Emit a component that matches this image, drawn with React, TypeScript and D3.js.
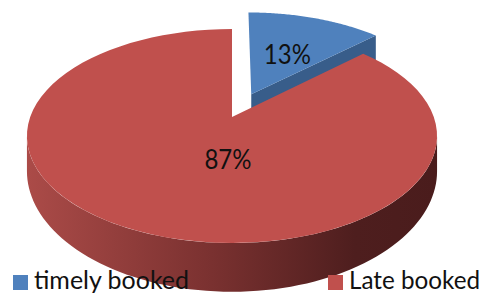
import React, { useEffect, useRef } from "react";
import * as d3 from "d3";

const categories = ["timely booked", "Late booked"];
const values = [13, 87];
const explode = [0.25, 0];
const topColors = ["#4f81bd", "#c0504d"];
const cutColors = ["#385d8a", "#7a2f2d"];
const legendWidths = [155, 131];

const W = 483;
const H = 295;

export default function App() {
  const ref = useRef<SVGSVGElement>(null);

  useEffect(() => {
    const svg = d3.select(ref.current);
    svg.selectAll("*").remove();

    // perspective disk: u across, v toward viewer, z = thickness in px
    const cx = 232, cy = 117, kx = 201.8, ky = 103.6, D = 5.63, depth = 33;
    const proj = (u: number, v: number, z: number): [number, number] => {
      const s = D / (D - v);
      return [cx + kx * u * s, cy + ky * v * s + z * s * s];
    };

    const total = d3.sum(values);
    const pct = d3.format(".0%");
    const arcs = d3.pie<number>().sort(null)(values);
    const line = d3.line().curve(d3.curveLinear);

    const defs = svg.append("defs");
    const grad = defs
      .append("linearGradient")
      .attr("id", "sideGrad")
      .attr("gradientUnits", "userSpaceOnUse")
      .attr("x1", 27)
      .attr("x2", 437)
      .attr("y1", 0)
      .attr("y2", 0);
    grad.append("stop").attr("offset", 0).attr("stop-color", "#ab4b48");
    grad.append("stop").attr("offset", 0.45).attr("stop-color", "#7a3130");
    grad.append("stop").attr("offset", 0.8).attr("stop-color", "#4e1e1e");
    grad.append("stop").attr("offset", 1).attr("stop-color", "#4a1c1c");

    const rim = (a: number, ou: number, ov: number, z: number) =>
      proj(Math.sin(a) + ou, -Math.cos(a) + ov, z);

    const arcPts = (a0: number, a1: number, ou: number, ov: number, z: number) =>
      d3.range(0, 81).map((i) => rim(a0 + ((a1 - a0) * i) / 80, ou, ov, z));

    // visible part of outer wall (where the horizontal extent peaks)
    const visA0 = Math.acos(-1 / D);
    const visA1 = 2 * Math.PI - visA0;

    const order = arcs
      .map((d, i) => ({ d, i }))
      .sort((a, b) => {
        const ma = (a.d.startAngle + a.d.endAngle) / 2;
        const mb = (b.d.startAngle + b.d.endAngle) / 2;
        return -Math.cos(mb) < -Math.cos(ma) ? 1 : -1;
      });

    order.forEach(({ d, i }) => {
      const mid = (d.startAngle + d.endAngle) / 2;
      const ou = explode[i] * Math.sin(mid);
      const ov = -explode[i] * Math.cos(mid);
      const g = svg.append("g");

      // radial cut faces
      const cut = (a: number) => {
        const pts = [
          proj(ou, ov, 0),
          rim(a, ou, ov, 0),
          rim(a, ou, ov, depth),
          proj(ou, ov, depth),
        ];
        g.append("path").attr("d", line(pts) + "Z").attr("fill", cutColors[i]);
      };
      if (-Math.sin(d.startAngle) > 0.01) cut(d.startAngle);
      if (Math.sin(d.endAngle) > 0.01) cut(d.endAngle);

      // outer wall
      const w0 = Math.max(d.startAngle, visA0);
      const w1 = Math.min(d.endAngle, visA1);
      if (w1 > w0) {
        const pts = arcPts(w0, w1, ou, ov, 0).concat(arcPts(w0, w1, ou, ov, depth).reverse());
        g.append("path")
          .attr("d", line(pts) + "Z")
          .attr("fill", i === 1 ? "url(#sideGrad)" : cutColors[i]);
      }

      // top face
      const top = [proj(ou, ov, 0)].concat(arcPts(d.startAngle, d.endAngle, ou, ov, 0));
      g.append("path").attr("d", line(top) + "Z").attr("fill", topColors[i]);
    });

    // data labels
    const labelAt = [
      { r: 0.5, shift: 0.01 },
      { r: 0.4, shift: 0.14 },
    ];
    arcs.forEach((d, i) => {
      const mid = (d.startAngle + d.endAngle) / 2;
      const ou = explode[i] * Math.sin(mid);
      const ov = -explode[i] * Math.cos(mid);
      const r = labelAt[i].r;
      const [x, y] = proj(r * Math.sin(mid) + ou + labelAt[i].shift, -r * Math.cos(mid) + ov, 0);
      svg
        .append("text")
        .attr("x", x)
        .attr("y", y + 4)
        .attr("text-anchor", "middle")
        .attr("dominant-baseline", "middle")
        .attr("font-family", "Lato, 'Open Sans', sans-serif")
        .attr("font-size", 27)
        .attr("textLength", 47)
        .attr("lengthAdjust", "spacingAndGlyphs")
        .attr("fill", "#111")
        .text(pct(values[i] / total));
    });

    // legend
    const lx = d3.scaleOrdinal<string, number>().domain(categories).range([13, 328]);
    const leg = svg
      .selectAll("g.leg")
      .data(categories)
      .enter()
      .append("g")
      .attr("class", "leg")
      .attr("transform", (c) => `translate(${lx(c)},275)`);
    leg
      .append("rect")
      .attr("width", 15)
      .attr("height", 15)
      .attr("fill", (_c, i) => topColors[i]);
    leg
      .append("text")
      .attr("x", 21)
      .attr("y", 14)
      .attr("font-family", "Lato, 'Open Sans', sans-serif")
      .attr("font-size", 25)
      .attr("textLength", (_c, i) => legendWidths[i])
      .attr("lengthAdjust", "spacingAndGlyphs")
      .attr("fill", "#111")
      .text((c) => c);
  }, []);

  return (
    <svg
      ref={ref}
      width={W}
      height={H}
      style={{ position: "absolute", left: 0, top: 0, background: "#fff" }}
    />
  );
}
